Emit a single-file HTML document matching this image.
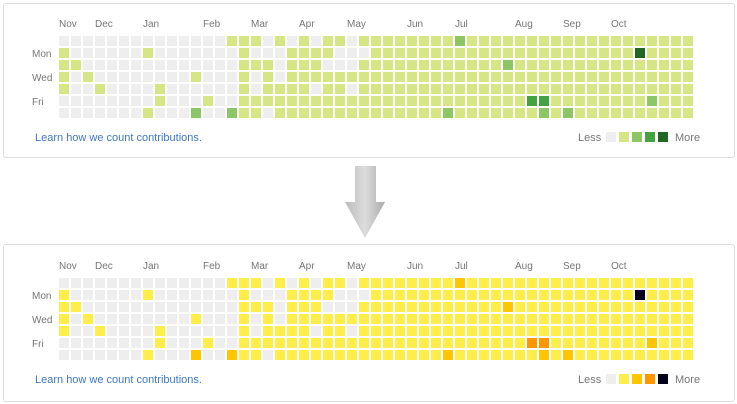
<!DOCTYPE html>
<html><head><meta charset="utf-8"><style>
body{margin:0;width:737px;height:404px;background:#fff;position:relative;overflow:hidden;font-family:"Liberation Sans",sans-serif}
.panel{position:absolute;left:3px;width:730px;border:1px solid #ddd;border-radius:3px;background:#fff}
svg{position:absolute;left:0;top:0}
</style></head><body>
<div class="panel" style="top:3px;height:153px"></div>
<div class="panel" style="top:244px;height:156px"></div>
<svg width="737" height="404" id="chart">
<g>
<defs><linearGradient id="ag" x1="0" x2="1"><stop offset="0" stop-color="#bbb"/><stop offset="0.5" stop-color="#ddd"/><stop offset="1" stop-color="#aaa"/></linearGradient></defs>
<path d="M355 166 H376 V202 H385 L365 238 L345 202 H355 Z" fill="url(#ag)"/>
</g>
</svg>
<script>
const months=["Nov","Dec","Jan","Feb","Mar","Apr","May","Jun","Jul","Aug","Sep","Oct"];
const monthCols=[0,3,7,12,16,20,24,29,33,38,42,46];
const dayLabels=["Mon","Wed","Fri"];
const dayRows=[1,3,5];
const greenColors=["#eeeeee","#d6e685","#8cc665","#44a340","#1e6823"];
const yellowColors=["#eeeeee","#ffee4a","#ffc501","#fe9600","#03001c"];
// levels per week column, 7 days each (Sun..Sat)
const weeks=[
"0111100","0010000","0001000","0000100","0000000","0000000","0000000","0100001","0000110","0000000",
"0000000","0001002","0000010","0000000","1000002","1111111","1010011","0011110","1000111","0111111",
"1111111","0111011","1101111","1001111","0001011","1011111","1111111","1111111","1111111","1111111",
"1111111","1111111","1111112","2111111","1111111","1111111","1111111","1121111","1111111","1111131",
"1111132","1111111","1111112","1111111","1111111","1111111","1111111","1111111","1411111","1111121",
"1111111","1111111","1111111"
];
const svg=document.getElementById('chart');
const NS="http://www.w3.org/2000/svg";
function xCol(c){return 59+c*12;}
function yRow(r,off){return 36+off+r*12;}
function txt(x,y,s,size,fill,name,inter){
 const t=document.createElementNS(NS,'text');
 t.setAttribute('x',x);t.setAttribute('y',y);t.setAttribute('font-size',size);t.setAttribute('fill',fill);
 t.setAttribute('font-family','"Liberation Sans",sans-serif');
 t.textContent=s;
 
 
 svg.appendChild(t);return t;
}
function draw(off,colors,tag){
 months.forEach((m,i)=>{txt(xCol(monthCols[i]),off+27,m,10,"#767676","month-label","");});
 dayLabels.forEach((d,i)=>{txt(32,yRow(dayRows[i],off)+9,d,10,"#767676","day-label","");});
 weeks.forEach((w,c)=>{
  for(let r=0;r<7;r++){
   const v=+w[r];
   const rc=document.createElementNS(NS,'rect');
   rc.setAttribute('x',xCol(c));rc.setAttribute('y',yRow(r,off));
   rc.setAttribute('width',10);rc.setAttribute('height',10);
   rc.setAttribute('fill',colors[v]);
   
   
   svg.appendChild(rc);
  }
 });
 txt(35,off+141,"Learn how we count contributions.",11,"#4078c0","learn-more-link",true);
 txt(578,off+141,"Less",11,"#767676","legend-less","");
 colors.forEach((col,i)=>{
  const rc=document.createElementNS(NS,'rect');
  rc.setAttribute('x',606+i*13);rc.setAttribute('y',off+132);
  rc.setAttribute('width',10);rc.setAttribute('height',10);rc.setAttribute('fill',col);
  
  
  svg.appendChild(rc);
 });
 txt(675,off+141,"More",11,"#767676","legend-more","");
}
draw(0,greenColors,'green');
draw(242,yellowColors,'yellow');
</script>
</body></html>
